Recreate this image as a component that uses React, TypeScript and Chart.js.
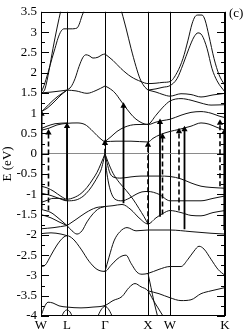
import React, { useEffect, useRef } from 'react';
import { Chart, registerables } from 'chart.js';

Chart.register(...registerables);

// k-path positions of symmetry points and their labels
const SYM_K = [0, 26, 64, 107, 129, 184];
const SYM_LABELS = ['W', 'L', 'Γ', 'X', 'W', 'K'];

const Y_MIN = -4;
const Y_MAX = 3.5;
const Y_LABEL_STEP = 0.5;
const Y_TICK_VALUES = [
  -4, -3.75, -3.5, -3.25, -3, -2.75, -2.5, -2.25, -2, -1.75, -1.5, -1.25, -1, -0.75, -0.5, -0.25,
  0, 0.25, 0.5, 0.75, 1, 1.25, 1.5, 1.75, 2, 2.25, 2.5, 2.75, 3, 3.25, 3.5,
];

// ---- bands: [k, E(eV)] ----
const bandB1 = [[0, 1.48], [2, 1.52], [4, 1.6], [8, 2.05], [12, 2.6], [16, 3.1], [20, 3.55], [21, 3.65]];
const bandB2 = [[0, 1.5], [3, 1.68], [7, 2.0], [11, 2.35], [14, 2.6], [17, 2.85], [20, 3.02], [23, 3.08], [30, 3.08], [36, 3.1], [38, 3.18], [41, 3.4], [45, 3.65]];
const bandB3a = [[0, 1.02], [8, 1.22], [16, 1.4], [26, 1.57]];
const bandB3b = [[0, 1.04], [6, 1.12], [14, 1.3], [20, 1.45], [26, 1.57]];
const bandB4 = [[0, 1.5], [10, 1.52], [20, 1.55], [26, 1.57]];
const bandB5 = [[26, 1.57], [35, 1.55], [46, 1.49], [55, 1.56], [64, 1.67]];
const bandB6 = [[26, 1.57], [30, 1.65], [34, 1.85], [38, 2.15], [42, 2.38], [45, 2.44], [48, 2.42], [52, 2.36], [57, 2.38], [61, 2.44], [64, 2.46]];
const bandB7 = [[64, 2.46], [72, 2.3], [80, 2.1], [90, 1.9], [100, 1.78], [107, 1.73], [115, 1.74], [122, 1.76], [129, 1.78], [136, 2.0], [142, 2.35], [147, 2.8], [151, 3.2], [154, 3.38], [157, 3.42], [161, 3.42], [164, 3.3], [168, 2.9], [173, 2.35], [178, 1.95], [184, 1.68]];
const bandB8 = [[79, 3.65], [85, 3.1], [90, 2.6], [95, 2.15], [99, 1.85], [103, 1.67], [107, 1.57]];
const bandC5 = [[107, 1.57], [115, 1.6], [122, 1.64], [129, 1.68], [136, 1.85], [142, 2.2], [148, 2.6], [153, 2.88], [157, 2.98], [161, 2.92], [166, 2.6], [171, 2.1], [176, 1.8], [184, 1.52]];
const bandC6 = [[107, 1.57], [115, 1.52], [122, 1.46], [129, 1.42], [140, 1.48], [150, 1.46], [160, 1.4], [172, 1.45], [184, 1.49]];
const bandC2 = [[64, 1.67], [68, 1.62], [74, 1.5], [80, 1.3], [86, 1.1], [92, 0.92], [98, 0.8], [104, 0.73], [107, 0.72], [115, 0.78], [122, 0.82], [129, 0.85], [140, 0.95], [150, 1.02], [160, 1.04], [170, 1.0], [178, 0.93], [184, 0.89]];
const bandC3 = [[64, 0.3], [70, 0.42], [76, 0.55], [84, 0.66], [95, 0.72], [107, 0.73], [115, 0.95], [122, 1.15], [129, 1.3], [140, 1.36], [150, 1.32], [160, 1.25], [170, 1.2], [184, 1.21]];
const bandC1 = [[0, 0.58], [8, 0.63], [16, 0.71], [26, 0.75], [36, 0.76], [44, 0.72], [50, 0.6], [56, 0.45], [60, 0.36], [64, 0.3], [75, 0.31], [90, 0.31], [107, 0.29], [112, 0.38], [119, 0.47], [129, 0.55], [138, 0.6], [150, 0.68], [160, 0.76], [168, 0.73], [176, 0.65], [184, 0.58]];
const bandC1b = [[0, 0.62], [6, 0.68], [14, 0.74], [26, 0.76]];

const bandLV1 = [[0, -0.8], [6, -0.84], [13, -0.93], [20, -1.05], [26, -1.12], [33, -1.08], [40, -0.98], [46, -0.83], [52, -0.62], [56, -0.46], [60, -0.24], [64, 0]];
const bandLV2 = [[0, -0.97], [10, -1.03], [18, -1.1], [26, -1.16], [35, -1.14], [42, -1.05], [48, -0.9], [53, -0.72], [57, -0.55], [60, -0.4], [62, -0.22], [64, 0]];
const bandLV3 = [[0, -1.2], [6, -1.15], [12, -1.1], [18, -1.1], [26, -1.15]];
const bandLV4 = [[0, -1.37], [10, -1.45], [18, -1.6], [26, -1.77]];
const bandLV5 = [[0, -1.5], [10, -1.58], [18, -1.68], [26, -1.77]];
const bandLV6 = [[0, -1.85], [13, -1.82], [26, -1.77]];
const bandLV7 = [[0, -1.97], [10, -1.95], [20, -1.98], [26, -2.02]];
const bandLV8 = [[26, -1.77], [35, -1.62], [45, -1.45], [55, -1.33], [64, -1.3]];
const bandLV9 = [[26, -1.77], [31, -1.9], [36, -1.98], [41, -1.9], [46, -1.68], [52, -1.48], [58, -1.35], [64, -1.3]];
const bandLV10 = [[0, -2.78], [4, -2.75], [10, -2.5], [16, -2.25], [22, -2.07], [26, -2.02], [32, -2.1], [40, -2.35], [48, -2.65], [56, -2.85], [64, -2.9], [70, -2.75], [76, -2.6], [81, -2.52], [85, -2.5], [90, -2.7], [96, -2.92], [101, -2.97], [107, -2.95], [118, -2.85], [129, -2.78], [140, -2.78], [147, -2.6], [153, -2.4], [158, -2.28], [163, -2.35], [170, -2.6], [177, -2.85], [184, -3.0]];
const bandLV11 = [[0, -4.0], [3, -3.8], [7, -3.66], [12, -3.68], [18, -3.75], [26, -3.78], [40, -3.8], [52, -3.78], [64, -3.74], [72, -3.62], [81, -3.52], [88, -3.3], [94, -3.2], [100, -3.28], [107, -3.38], [112, -3.6], [117, -3.8], [122, -4.0]];
const bandXV1 = [[107, -2.95], [110, -3.3], [113, -3.65], [117, -4.05]];
const bandArcL = [[20, -4.05], [23, -3.9], [26, -3.85], [29, -3.9], [32, -4.05]];
const bandArcG = [[56, -4.05], [60, -3.85], [64, -3.76], [68, -3.85], [72, -4.05]];
const bandWK = [[107, -3.38], [118, -3.45], [129, -3.55], [140, -3.62], [150, -3.6], [160, -3.45], [170, -3.38], [184, -3.3]];
const bandRVa = [[64, 0], [67, -0.2], [72, -0.48], [78, -0.7], [85, -0.9], [92, -1.12], [98, -1.35], [103, -1.55], [107, -1.73]];
const bandRVb = [[64, 0], [66, -0.22], [69, -0.48], [73, -0.58], [80, -0.6], [90, -0.57], [100, -0.55], [107, -0.55], [118, -0.55], [129, -0.56], [140, -0.62], [150, -0.72], [160, -0.8], [170, -0.83], [184, -0.85]];
const bandRVc = [[64, 0], [65, -0.3], [67, -0.65], [70, -0.95], [74, -1.12], [81, -1.16], [88, -1.1], [95, -1.0], [101, -0.94], [107, -0.93], [118, -1.0], [129, -1.16], [145, -1.16], [160, -1.16], [172, -1.1], [184, -1.04]];
const bandRVd = [[64, -1.3], [72, -1.28], [81, -1.25], [90, -1.38], [98, -1.58], [107, -1.73], [115, -1.58], [122, -1.47], [129, -1.4], [140, -1.45], [150, -1.52], [160, -1.53], [172, -1.45], [184, -1.4]];
const bandRVe = [[64, -2.9], [68, -2.55], [73, -2.15], [79, -1.92], [86, -1.82], [95, -1.9], [107, -1.88], [129, -1.88], [150, -1.92], [170, -1.96], [184, -1.98]];

const BANDS = [
  bandB1, bandB2, bandB3a, bandB3b, bandB4, bandB5, bandB6, bandB7, bandB8, bandC5, bandC6,
  bandC2, bandC3, bandC1, bandC1b,
  bandLV1, bandLV2, bandLV3, bandLV4, bandLV5, bandLV6, bandLV7, bandLV8, bandLV9, bandLV10,
  bandLV11, bandXV1, bandArcL, bandArcG, bandWK,
  bandRVa, bandRVb, bandRVc, bandRVd, bandRVe,
];

// ---- transition arrows ----
const ARROW_K = [0.6, 7.5, 26, 64, 82.5, 107, 119, 121.5, 138, 143.5, 179, 183.3];
const ARROW_FROM = [-1.37, -1.4, -1.13, 0, -1.22, -1.74, -1.55, -1.5, -1.4, -1.86, -0.8, -1.88];
const ARROW_TO = [0.98, 0.52, 0.68, 0.26, 1.18, 0.22, 0.78, 0.42, 0.55, 0.6, 0.76, 0.53];
const ARROW_DASHED = [false, true, false, true, false, true, false, true, true, false, true, false];

export default function App() {
  const ref = useRef<HTMLCanvasElement>(null);

  useEffect(() => {
    document.body.style.margin = '0';
    Chart.defaults.font.family = '"Liberation Serif", "Times New Roman", serif';

    const bandSets = BANDS.map((b) => ({
      type: 'line' as const,
      data: b.map(([x, y]) => ({ x, y })),
      borderColor: '#111',
      borderWidth: 1,
      pointRadius: 0,
      cubicInterpolationMode: 'monotone' as const,
      fill: false,
      order: 2,
    }));

    const arrowSets = ARROW_K.map((k, i) => ({
      type: 'line' as const,
      data: [{ x: k, y: ARROW_FROM[i] }, { x: k, y: ARROW_TO[i] }],
      borderColor: '#000',
      borderWidth: ARROW_DASHED[i] ? 1.6 : 1.8,
      borderDash: ARROW_DASHED[i] ? [5, 3] : [],
      pointStyle: 'triangle' as const,
      pointRadius: [0, 3.6],
      pointBackgroundColor: '#000',
      pointBorderColor: '#000',
      pointBorderWidth: 0,
      fill: false,
      order: 1,
    }));

    const decor = {
      id: 'decor',
      afterDatasetsDraw(chart: any) {
        const { ctx, chartArea: a, scales } = chart;
        const y = scales.y;
        ctx.save();
        ctx.strokeStyle = '#000';
        ctx.lineWidth = 1;
        ctx.strokeRect(Math.round(a.left) + 0.5, Math.round(a.top) + 0.5, Math.round(a.right - a.left) - 1, Math.round(a.bottom - a.top) - 1);
        ctx.beginPath();
        Y_TICK_VALUES.forEach((v) => {
          const p = Math.round(y.getPixelForValue(v)) + 0.5;
          const major = Math.abs(v / Y_LABEL_STEP - Math.round(v / Y_LABEL_STEP)) < 1e-6;
          const len = major ? 8 : 4;
          ctx.moveTo(a.left, p);
          ctx.lineTo(a.left + len, p);
          ctx.moveTo(a.right - len, p);
          ctx.lineTo(a.right, p);
        });
        ctx.stroke();
        ctx.fillStyle = '#000';
        ctx.font = '13px "Liberation Serif", serif';
        ctx.textBaseline = 'middle';
        ctx.textAlign = 'left';
        ctx.fillText('(c)', a.right + 4, 14);
        ctx.restore();
      },
    };

    const chart = new Chart(ref.current as HTMLCanvasElement, {
      type: 'line',
      data: { datasets: [...arrowSets, ...bandSets] as any },
      options: {
        responsive: false,
        devicePixelRatio: 1,
        animation: false,
        events: [],
        layout: { padding: { top: 5, right: 20, left: 0, bottom: 0 } },
        plugins: { legend: { display: false }, tooltip: { enabled: false } },
        scales: {
          x: {
            type: 'linear',
            min: 0,
            max: 184,
            afterBuildTicks: (s: any) => {
              s.ticks = SYM_K.map((v) => ({ value: v }));
            },
            afterFit: (s: any) => {
              s.height = 17;
            },
            ticks: {
              callback: (_v: any, i: number) => SYM_LABELS[i],
              color: '#000',
              font: { size: 13 },
              padding: 2,
              autoSkip: false,
              maxRotation: 0,
            },
            grid: { color: '#000', lineWidth: 1, drawTicks: false },
            border: { display: false },
          },
          y: {
            type: 'linear',
            min: Y_MIN,
            max: Y_MAX,
            afterFit: (s: any) => {
              s.width = 41;
            },
            ticks: {
              stepSize: Y_LABEL_STEP,
              color: '#000',
              font: { size: 13 },
              padding: 4,
              callback: (v: any) => String(v),
            },
            grid: {
              drawTicks: false,
              lineWidth: 1,
              color: (c: any) => (c.tick && c.tick.value === 0 ? '#8a8a8a' : 'rgba(0,0,0,0)'),
            },
            border: { display: false },
            title: { display: true, text: 'E (eV)', color: '#000', font: { size: 13 }, padding: 0 },
          },
        },
      } as any,
      plugins: [decor],
    });
    return () => chart.destroy();
  }, []);

  return (
    <div style={{ position: 'absolute', left: 0, top: 0, width: 245, height: 333 }}>
      <canvas ref={ref} width={245} height={333} style={{ display: 'block', width: 245, height: 333 }} />
    </div>
  );
}
